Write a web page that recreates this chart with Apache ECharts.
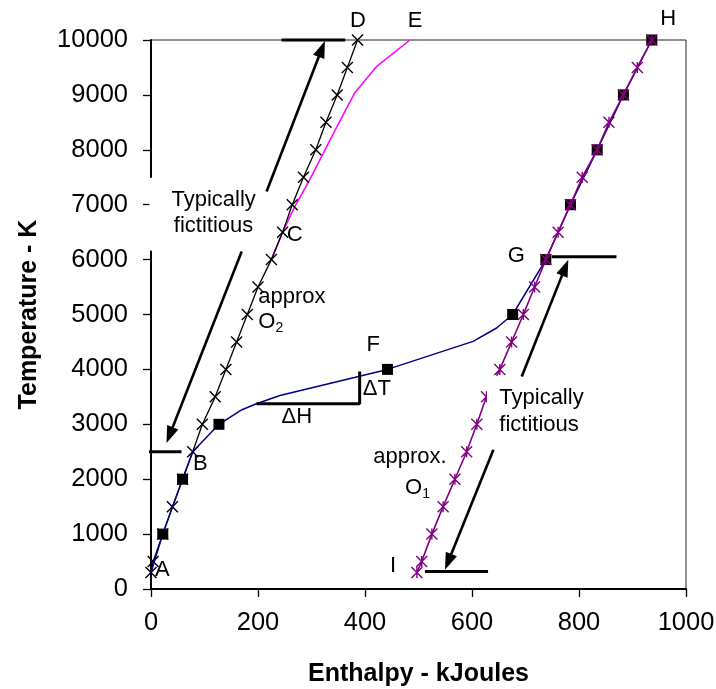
<!DOCTYPE html>
<html><head><meta charset="utf-8">
<script src="https://cdn.jsdelivr.net/npm/echarts@6/dist/echarts.min.js"></script>
<style>html,body{margin:0;padding:0;background:#fff}#c{width:716px;height:689px}</style>
</head><body><div id="c"></div>
<script>
// ---- axes ----
const xTicks = [0, 200, 400, 600, 800, 1000];
const yTicks = [0, 1000, 2000, 3000, 4000, 5000, 6000, 7000, 8000, 9000, 10000];
// ---- approx O2 (black, x markers) ----
const o2T = [300, 500, 1000, 1500, 2000, 2500, 3000, 3500, 4000, 4500, 5000, 5500, 6000, 6500, 7000, 7500, 8000, 8500, 9000, 9500, 10000];
const o2H = [0, 4, 22, 40, 59, 78, 96, 120, 140, 160, 180, 200, 225, 246, 264, 285, 308, 327, 348, 367, 386];
// ---- C to E (magenta) ----
const magT = [6000, 6500, 6970, 7460, 8300, 9040, 9520, 10000];
const magH = [225, 246, 269, 297, 341, 381, 422, 484];
// ---- real curve (navy line) ----
const realT = [300, 1000, 2000, 2500, 3000, 3266, 3375, 3526, 4000, 4510, 4754, 5000, 6000, 7000, 8000, 9000, 10000];
const realH = [0, 22, 59, 78, 127, 170, 197, 241, 442, 602, 646, 676, 738, 784, 834, 883, 936];
// ---- real curve square markers ----
const sqT = [1000, 2000, 3000, 4000, 5000, 6000, 7000, 8000, 9000, 10000];
const sqH = [22, 59, 127, 442, 676, 738, 784, 834, 883, 936];
// ---- approx O1 (purple, star markers) ----
const o1T = [300, 500, 1000, 1500, 2000, 2500, 3000, 3500, 4000, 4500, 5000, 5500, 6000, 6500, 7000, 7500, 8000, 8500, 9000, 9500, 10000];
const o1H = [497, 506, 525, 546, 568, 590, 609, 627, 652, 674, 696, 717, 738, 761, 784, 806, 834, 856, 883, 909, 936];
// ---- annotation segments (data coords) ----
const segD = [[244, 10000], [363, 10000]];
const segB = [[-62, 2500], [57, 2500]];
const segG = [[749, 6050], [870, 6050]];
const segI = [[512, 320], [630, 320]];
const segDHDT = [[197, 3375], [390, 3375], [390, 3964]];
// arrows: tail -> tip (data coords)
const arrowTail = [[216, 7242], [169.5, 6149], [693, 3872], [640, 2537]];
const arrowTip = [[325, 9980], [29, 2659], [780, 5998], [549.5, 351]];
// white text boxes: [xMin, tMax, xMax, tMin]
const boxes = [[-2.8, 7492, 215, 6162], [628, 3885, 840, 2537]];
// labels: text, x, T, align
const labelText = ['A', 'B', 'C', 'D', 'E', 'F', 'G', 'H', 'I', 'approx', '{n|O}{s|2}', 'ΔH', 'ΔT', 'approx.', '{n|O}{s|1}', 'Typically', 'fictitious', 'Typically', 'fictitious'];
const labelX = [7.5, 78.5, 253.6, 372, 480, 403, 667, 952, 446.7, 200.6, 200.6, 244, 395.7, 415.5, 474.8, 117, 117, 651, 651];
const labelT = [342, 2273, 6454, 10350, 10350, 4441, 6058, 10380, 415, 5323, 4869, 3129, 3648, 2410, 1832, 7091, 6605, 3475, 2993];
const labelAlign = ['left', 'left', 'left', 'left', 'left', 'left', 'left', 'left', 'left', 'left', 'left', 'left', 'left', 'left', 'left', 'center', 'center', 'left', 'left'];

const FONT = 'Liberation Sans';
const zip = (a, b) => a.map((v, i) => [v, b[i]]);
const chart = echarts.init(document.getElementById('c'), null, { renderer: 'canvas' });

const xMark = 'path://M0,0L10,10M10,0L0,10';
const starMark = 'path://M0,0L10,10M10,0L0,10M5,0L5,10';

function segSeries(d) {
  return { type: 'line', data: d, symbol: 'none', clip: false, silent: true, z: 5,
    lineStyle: { color: '#000', width: 3 }, animation: false };
}

const option = {
  animation: false,
  backgroundColor: '#fff',
  grid: { left: 151, right: 30, top: 40, bottom: 100, show: true, borderColor: '#222', borderWidth: 1,
    containLabel: false, outerBoundsMode: 'none' },
  xAxis: {
    type: 'value', min: xTicks[0], max: xTicks[xTicks.length - 1], interval: xTicks[1] - xTicks[0],
    name: 'Enthalpy - kJoules', nameLocation: 'middle', nameGap: 73,
    nameTextStyle: { fontFamily: FONT, fontWeight: 'bold', fontSize: 25, color: '#000' },
    axisLine: { onZero: false, lineStyle: { color: '#000', width: 2 } },
    axisTick: { length: 8, lineStyle: { color: '#000', width: 1.3 } },
    axisLabel: { fontFamily: FONT, fontSize: 25.5, color: '#000', margin: 21, formatter: v => String(v) },
    splitLine: { show: false }
  },
  yAxis: {
    type: 'value', min: yTicks[0], max: yTicks[yTicks.length - 1], interval: yTicks[1] - yTicks[0],
    name: 'Temperature - K', nameLocation: 'middle', nameRotate: 90, nameGap: 109,
    nameTextStyle: { fontFamily: FONT, fontWeight: 'bold', fontSize: 25, color: '#000' },
    axisLine: { onZero: false, lineStyle: { color: '#000', width: 2 } },
    axisTick: { length: 8, lineStyle: { color: '#000', width: 1.3 } },
    axisLabel: { fontFamily: FONT, fontSize: 25.5, color: '#000', margin: 23, formatter: v => String(v) },
    splitLine: { show: false }
  },
  series: [
    { name: 'C-E', type: 'line', data: zip(magH, magT), symbol: 'none', z: 1,
      lineStyle: { color: '#FF00FF', width: 1.5 } },
    { name: 'approx O2', type: 'line', data: zip(o2H, o2T), symbol: xMark, symbolSize: 11, z: 2,
      lineStyle: { color: '#000', width: 1.3 }, itemStyle: { color: '#000', borderColor: '#000', borderWidth: 1.4 } },
    { name: 'real', type: 'line', data: zip(realH, realT), symbol: 'none', z: 3,
      lineStyle: { color: '#000080', width: 1.5 } },
    { name: 'real markers', type: 'scatter', data: zip(sqH, sqT), symbol: 'rect', symbolSize: 11, z: 3,
      itemStyle: { color: '#000', opacity: 1 } },
    { name: 'approx O1', type: 'line', data: zip(o1H, o1T), symbol: starMark, symbolSize: 11, z: 4,
      lineStyle: { color: '#800080', width: 1.6 }, itemStyle: { color: '#800080', borderColor: '#800080', borderWidth: 1.4 } },
    segSeries(segD), segSeries(segB), segSeries(segG), segSeries(segI), segSeries(segDHDT)
  ]
};
chart.setOption(option);

function px(p) { return chart.convertToPixel({ gridIndex: 0 }, p); }
const g = [];
boxes.forEach(b => {
  const p1 = px([b[0], b[1]]), p2 = px([b[2], b[3]]);
  g.push({ type: 'rect', z: 50, silent: true, shape: { x: p1[0], y: p1[1], width: p2[0] - p1[0], height: p2[1] - p1[1] },
    style: { fill: '#fff' } });
});
arrowTail.forEach((t, i) => {
  const a = px(t), b = px(arrowTip[i]);
  const dx = b[0] - a[0], dy = b[1] - a[1], L = Math.hypot(dx, dy);
  const ux = dx / L, uy = dy / L, nx = -uy, ny = ux;
  const HL = 17, HW = 6;
  const bx = b[0] - ux * HL, by = b[1] - uy * HL;
  g.push({ type: 'line', z: 60, silent: true, shape: { x1: a[0], y1: a[1], x2: bx + ux * 2, y2: by + uy * 2 },
    style: { stroke: '#000', lineWidth: 2.6 } });
  g.push({ type: 'polygon', z: 60, silent: true, shape: { points: [[b[0], b[1]], [bx + nx * HW, by + ny * HW], [bx - nx * HW, by - ny * HW]] },
    style: { fill: '#000' } });
});
labelText.forEach((t, i) => {
  const p = px([labelX[i], labelT[i]]);
  g.push({ type: 'text', z: 70, silent: true, x: p[0], y: p[1],
    style: { text: t, fontFamily: FONT, fontSize: 22, fill: '#000', align: labelAlign[i], verticalAlign: 'middle',
      rich: { n: { fontFamily: FONT, fontSize: 22, lineHeight: 26, fill: '#000' },
              s: { fontFamily: FONT, fontSize: 14, lineHeight: 14, verticalAlign: 'bottom', fill: '#000' } } } });
});
chart.setOption({ graphic: g });
</script></body></html>
